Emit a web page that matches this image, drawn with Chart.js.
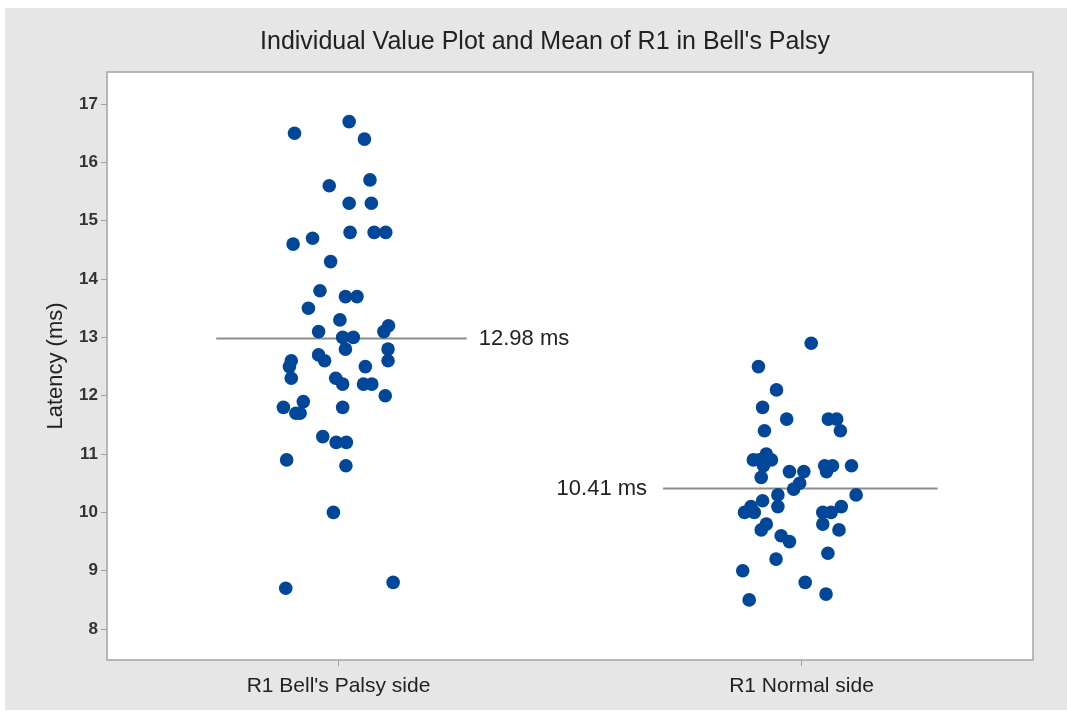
<!DOCTYPE html>
<html><head><meta charset="utf-8">
<script src="https://cdn.jsdelivr.net/npm/chart.js@4/dist/chart.umd.min.js"></script>
<style>html,body{margin:0;padding:0;background:#fff;}#wrap{width:1067px;height:715px;}</style>
</head><body><div id="wrap"><canvas id="c" width="1067" height="715"></canvas></div>
<script>
const chartTitle = "Individual Value Plot and Mean of R1 in Bell's Palsy";
const yAxisTitle = "Latency (ms)";
const categories = ["R1 Bell's Palsy side", "R1 Normal side"];
const yTicks = [8, 9, 10, 11, 12, 13, 14, 15, 16, 17];

// jittered category positions (1 = Bell's palsy side, 2 = normal side) and latencies (ms)
const palsyX = [0.905,1.023,1.056,1.068,0.980,1.023,1.071,0.902,0.944,1.025,1.077,1.102,0.983,0.960,1.015,1.040,0.935,1.003,1.108,1.098,0.957,1.009,1.032,1.015,1.107,0.898,0.894,0.898,0.957,0.970,0.994,1.009,1.058,1.107,1.054,1.072,1.101,0.881,0.924,0.908,0.917,1.009,0.966,0.995,1.017,0.888,1.016,0.989,0.886,1.118];
const palsyY = [16.5,16.7,16.4,15.7,15.6,15.3,15.3,14.6,14.7,14.8,14.8,14.8,14.3,13.8,13.7,13.7,13.5,13.3,13.2,13.1,13.1,13.0,13.0,12.8,12.8,12.6,12.5,12.3,12.7,12.6,12.3,12.2,12.5,12.6,12.2,12.2,12.0,11.8,11.9,11.7,11.7,11.8,11.3,11.2,11.2,10.9,10.8,10.0,8.7,8.8];
const normalX = [2.021,1.907,1.946,1.916,1.968,2.058,2.076,2.084,1.920,1.896,1.909,1.924,1.935,1.918,1.913,1.974,2.005,1.996,1.983,2.050,2.067,2.054,2.108,2.118,1.949,1.949,1.916,1.891,1.877,1.898,1.924,1.913,1.956,1.974,1.945,2.086,2.064,2.046,2.046,2.081,2.057,1.873,2.008,2.053,1.887];
const normalY = [12.9,12.5,12.1,11.8,11.6,11.6,11.6,11.4,11.4,10.9,10.9,11.0,10.9,10.8,10.6,10.7,10.7,10.5,10.4,10.8,10.8,10.7,10.8,10.3,10.3,10.1,10.2,10.1,10.0,10.0,9.8,9.7,9.6,9.5,9.2,10.1,10.0,10.0,9.8,9.7,9.3,9.0,8.8,8.6,8.5];

const means = [12.98, 10.41];
const meanLineFrom = [0.736, 1.701];
const meanLineTo = [1.277, 2.294];
const meanLabels = ["12.98 ms", "10.41 ms"];

const FONT = "'Liberation Sans', Arial, sans-serif";
const DOT = '#00479a';
const toPts = (xs, ys) => xs.map((x, i) => ({x: x, y: ys[i]}));

const bgPlugin = {
  id: 'bg',
  beforeDraw(chart) {
    const {ctx, chartArea: a} = chart;
    ctx.save();
    ctx.fillStyle = '#ffffff';
    ctx.fillRect(0, 0, chart.width, chart.height);
    ctx.fillStyle = '#e6e6e6';
    ctx.fillRect(5, 8, chart.width - 5, 702);
    ctx.fillStyle = '#ffffff';
    ctx.fillRect(a.left, a.top, a.right - a.left, a.bottom - a.top);
    ctx.fillStyle = '#222';
    ctx.font = '25px ' + FONT;
    ctx.textAlign = 'center';
    ctx.textBaseline = 'middle';
    ctx.fillText(chartTitle, 545, 42);
    ctx.restore();
  },
  afterDraw(chart) {
    const {ctx, chartArea: a, scales: {x, y}} = chart;
    ctx.save();
    ctx.strokeStyle = '#a3a3a3';
    ctx.lineWidth = 1.5;
    ctx.strokeRect(a.left, a.top, a.right - a.left, a.bottom - a.top);
    ctx.fillStyle = '#222';
    ctx.font = '22px ' + FONT;
    ctx.textBaseline = 'middle';
    means.forEach((m, i) => {
      const py = y.getPixelForValue(m);
      if (i === 0) {
        ctx.textAlign = 'left';
        ctx.fillText(meanLabels[i], x.getPixelForValue(meanLineTo[i]) + 12, py);
      } else {
        ctx.textAlign = 'right';
        ctx.fillText(meanLabels[i], x.getPixelForValue(meanLineFrom[i]) - 16, py);
      }
    });
    ctx.restore();
  }
};

const pointDs = (xs, ys) => ({
  type: 'scatter', data: toPts(xs, ys), order: 0,
  backgroundColor: DOT, borderWidth: 0, pointRadius: 6.8, pointHoverRadius: 6.8
});
const meanDs = means.map((m, i) => ({
  type: 'line', data: [{x: meanLineFrom[i], y: m}, {x: meanLineTo[i], y: m}], order: 1,
  borderColor: '#8c8c8c', borderWidth: 2, pointRadius: 0, fill: false
}));

new Chart(document.getElementById('c'), {
  type: 'scatter',
  data: { datasets: [pointDs(palsyX, palsyY), pointDs(normalX, normalY), ...meanDs] },
  options: {
    responsive: false, animation: false, devicePixelRatio: 1,
    layout: { padding: { left: 0, right: 34, top: 72, bottom: 0 } },
    plugins: { legend: { display: false }, tooltip: { enabled: false }, title: { display: false } },
    scales: {
      x: {
        type: 'linear', min: 0.5, max: 2.5,
        afterBuildTicks: s => { s.ticks = [1, 2].map(v => ({value: v})); },
        afterFit: s => { s.height = 55; },
        ticks: { callback: v => categories[Math.round(v) - 1], font: { family: FONT, size: 21 }, color: '#222', padding: 8, maxRotation: 0, autoSkip: false },
        grid: { drawOnChartArea: false, drawTicks: true, tickLength: 6, color: '#a0a0a0' },
        border: { display: false }
      },
      y: {
        min: 7.47, max: 17.55,
        afterBuildTicks: s => { s.ticks = yTicks.map(v => ({value: v})); },
        afterFit: s => { s.width = 107; },
        ticks: { font: { family: FONT, size: 17, weight: 'bold' }, color: '#333', padding: 3 },
        grid: { drawOnChartArea: false, drawTicks: true, tickLength: 6, color: '#a0a0a0' },
        border: { display: false },
        title: { display: true, text: yAxisTitle, font: { family: FONT, size: 22 }, color: '#222', padding: { top: 43, bottom: 0 } }
      }
    }
  },
  plugins: [bgPlugin]
});
</script></body></html>
